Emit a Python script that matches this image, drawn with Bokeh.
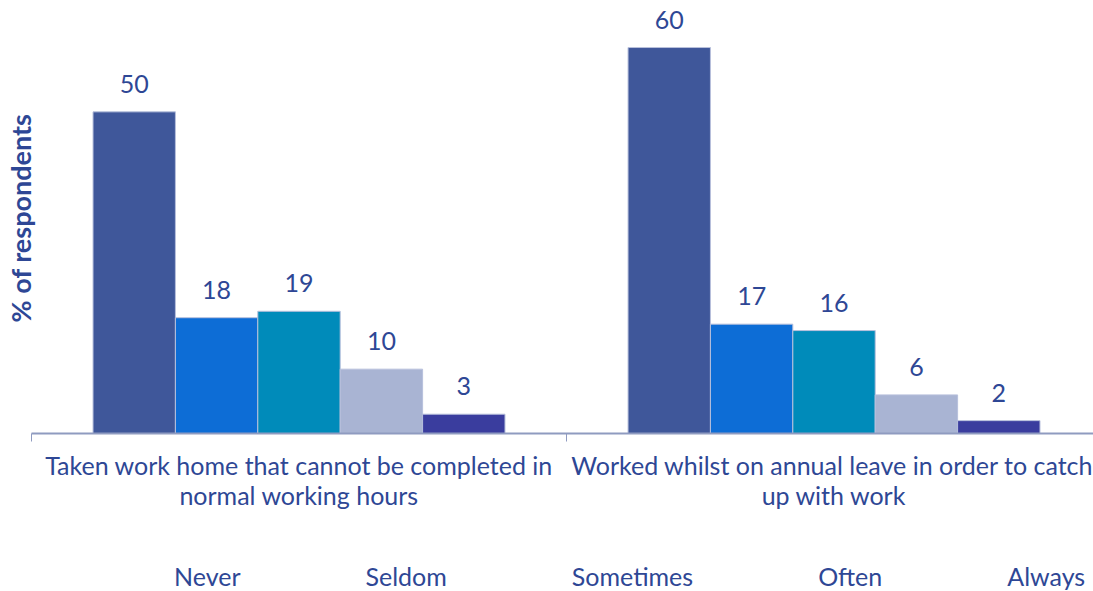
import numpy as np
from bokeh.plotting import figure
from bokeh.layouts import column
from bokeh.models import (Range1d, FixedTicker, LabelSet, ColumnDataSource, Legend, LegendItem, LinearAxis)
from bokeh.core.properties import value
from bokeh.transform import dodge
from bokeh.embed import file_html
from bokeh.resources import INLINE

categories = ["Taken work home that cannot be completed in\nnormal working hours",
              "Worked whilst on annual leave in order to catch\nup with work"]
series = ["Never", "Seldom", "Sometimes", "Often", "Always"]
never = [50, 60]
seldom = [18, 17]
sometimes = [19, 16]
often = [10, 6]
always = [3, 2]
colors = ["#3F579A", "#0D6DD6", "#008BBA", "#A9B4D3", "#3A3D9E"]

TXT = "#2E4795"
FONT = "Lato"

values = [never, seldom, sometimes, often, always]
centers = list(np.arange(len(categories)) + 0.5)

p = figure(width=1093, height=512, output_backend="svg", toolbar_location=None,
           x_range=Range1d(0, 1.985), y_range=Range1d(0, 67),
           min_border_left=0, min_border_right=0, min_border_top=2, min_border_bottom=0)
p.outline_line_color = None
p.grid.visible = False
p.background_fill_color = "white"
p.border_fill_color = "white"

bw = 0.154
for i, (name, vals, col) in enumerate(zip(series, values, colors)):
    src = ColumnDataSource(dict(x=centers, y=vals, lbl=[str(v) for v in vals]))
    off = (i - 2) * bw
    p.vbar(x=dodge("x", off, range=p.x_range), top="y", width=bw, source=src,
           fill_color=col, line_color="#B8C0DC", line_width=1)
    p.add_layout(LabelSet(x=dodge("x", off, range=p.x_range), y="y", text="lbl", source=src,
                          text_align="center", text_baseline="alphabetic", y_offset=19,
                          text_font=value(FONT), text_font_size="25px", text_color=TXT))

line1 = {c: lab.split("\n")[0] for c, lab in zip(centers, categories)}
line2 = {c: lab.split("\n")[1] for c, lab in zip(centers, categories)}

# x axis (first label line, tick marks at category edges)
xa = p.xaxis[0]
xa.ticker = FixedTicker(ticks=centers, minor_ticks=[0, 1, 2])
xa.major_label_overrides = line1
xa.major_tick_line_color = None
xa.major_tick_out = 0
xa.major_tick_in = 0
xa.minor_tick_line_color = "#8F9BC0"
xa.minor_tick_out = 8
xa.minor_tick_in = 0
xa.axis_line_color = "#8F9BC0"
xa.axis_line_width = 2
xa.major_label_text_font = FONT
xa.major_label_text_font_size = "25px"
xa.major_label_text_color = TXT
xa.major_label_standoff = 8

# second label line
xb = LinearAxis(ticker=FixedTicker(ticks=centers), major_label_overrides=line2,
                axis_line_color=None, major_tick_line_color=None, minor_tick_line_color=None,
                major_tick_out=0, major_tick_in=0,
                major_label_text_font=FONT, major_label_text_font_size="25px",
                major_label_text_color=TXT, major_label_standoff=-3)
p.add_layout(xb, "below")

# y axis: only the title
ya = p.yaxis[0]
ya.ticker = FixedTicker(ticks=[])
ya.axis_line_color = None
ya.major_tick_line_color = None
ya.minor_tick_line_color = None
ya.major_tick_out = 0
ya.major_tick_in = 0
ya.major_label_standoff = 0
ya.axis_label = "% of respondents"
ya.axis_label_text_font = FONT
ya.axis_label_text_font_style = "bold"
ya.axis_label_text_font_size = "27px"
ya.axis_label_text_color = TXT
ya.axis_label_standoff = -5

# legend strip below the chart
p2 = figure(width=1093, height=79, output_backend="svg", toolbar_location=None,
            x_range=Range1d(0, 1), y_range=Range1d(0, 1),
            min_border_left=0, min_border_right=0, min_border_top=0, min_border_bottom=0)
p2.axis.visible = False
p2.grid.visible = False
p2.outline_line_color = None
items = []
for name, col in zip(series, colors):
    r = p2.vbar(x=[], top=[], width=0.1, fill_color=col, line_color=None)
    items.append(LegendItem(label=name, renderers=[r]))
legend = Legend(items=items, orientation="horizontal", location=(122, 0),
                border_line_color=None, background_fill_alpha=0,
                glyph_width=15, glyph_height=15, spacing=104, padding=0,
                label_standoff=6, margin=0,
                label_text_font=FONT, label_text_font_size="25px", label_text_color=TXT)
p2.add_layout(legend, "center")

layout = column(p, p2, spacing=0)
open("out.html", "w").write(file_html(layout, INLINE))
